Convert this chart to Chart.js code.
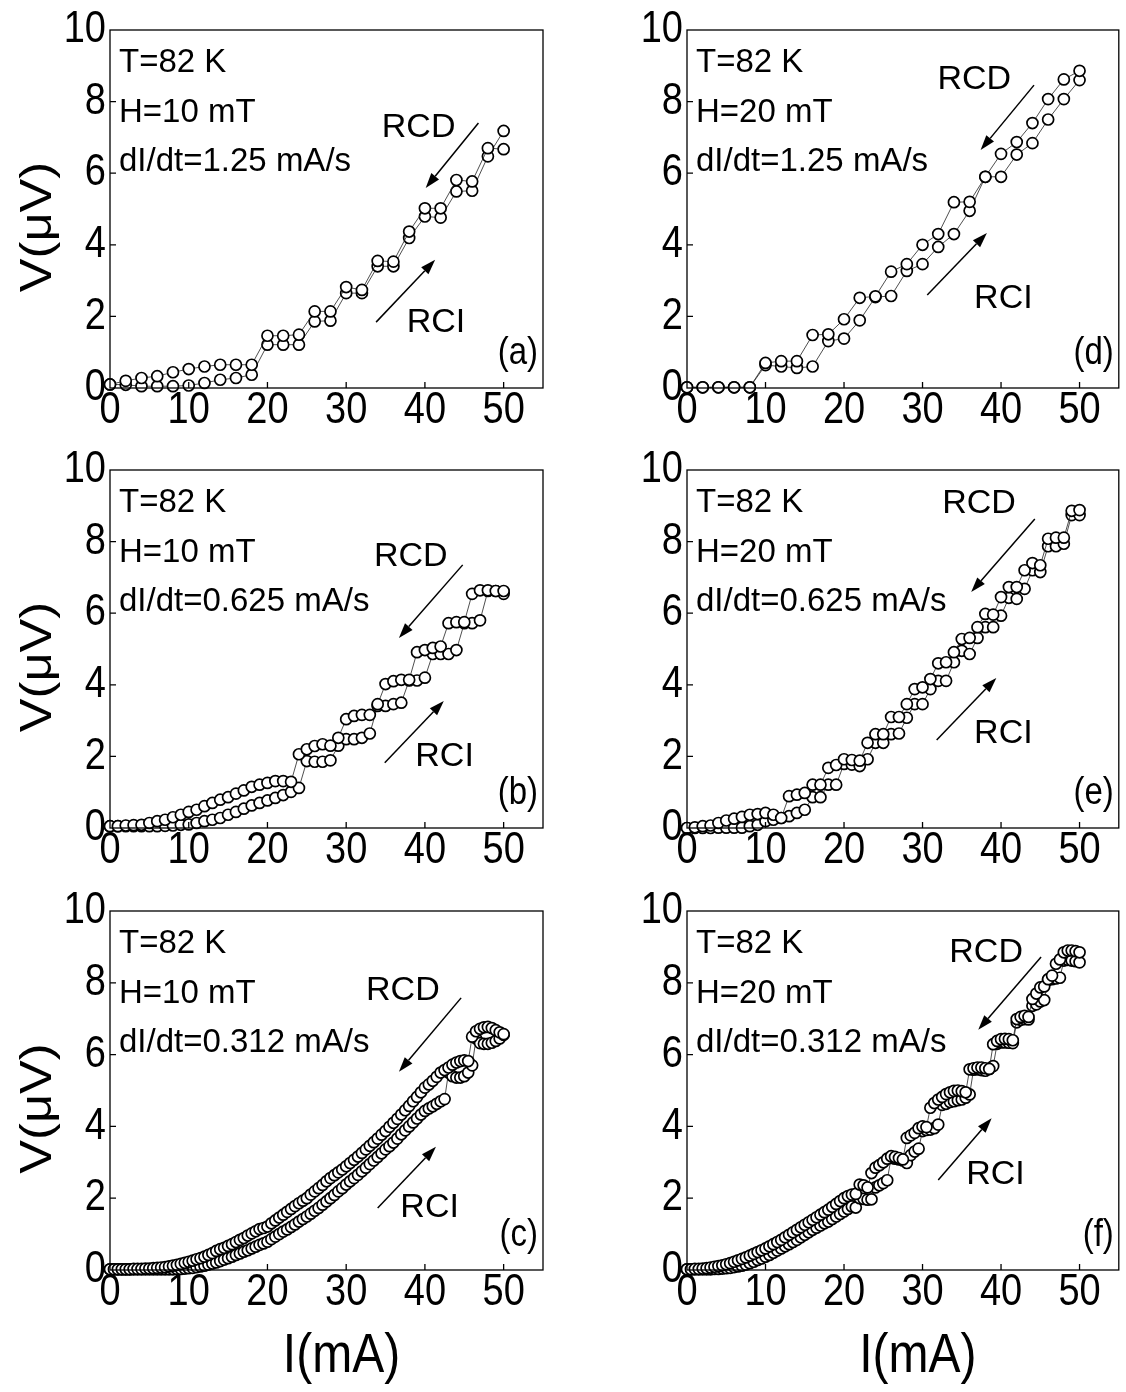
<!DOCTYPE html>
<html>
<head>
<meta charset="utf-8">
<script src="https://cdn.jsdelivr.net/npm/chart.js@4.4.1/dist/chart.umd.min.js"></script>
<style>
  body { margin: 0; background: #fff; }
  #wrap { position: relative; width: 1126px; height: 1392px; background: #fff; }
  canvas { position: absolute; }
</style>
</head>
<body>
<div id="wrap">
  <canvas id="pa"></canvas>
  <canvas id="pb"></canvas>
  <canvas id="pc"></canvas>
  <canvas id="pd"></canvas>
  <canvas id="pe"></canvas>
  <canvas id="pf"></canvas>
</div>
<script>
// currents (mA) for each sweep rate
const currFast = [0,2,4,6,8,10,12,14,16,18,20,22,24,26,28,30,32,34,36,38,40,42,44,46,48,50];
const currMid = [0,1,2,3,4,5,6,7,8,9,10,11,12,13,14,15,16,17,18,19,20,21,22,23,24,25,26,27,28,29,30,31,32,33,34,35,36,37,38,39,40,41,42,43,44,45,46,47,48,49,50];
const currSlow = [0,0.5,1,1.5,2,2.5,3,3.5,4,4.5,5,5.5,6,6.5,7,7.5,8,8.5,9,9.5,10,10.5,11,11.5,12,12.5,13,13.5,14,14.5,15,15.5,16,16.5,17,17.5,18,18.5,19,19.5,20,20.5,21,21.5,22,22.5,23,23.5,24,24.5,25,25.5,26,26.5,27,27.5,28,28.5,29,29.5,30,30.5,31,31.5,32,32.5,33,33.5,34,34.5,35,35.5,36,36.5,37,37.5,38,38.5,39,39.5,40,40.5,41,41.5,42,42.5,43,43.5,44,44.5,45,45.5,46,46.5,47,47.5,48,48.5,49,49.5,50];

// V (uV), H = 10 mT
const rciA = [0.1,0.09,0.05,0.05,0.05,0.07,0.14,0.23,0.28,0.37,1.21,1.21,1.21,1.86,1.88,2.65,2.65,3.4,3.4,4.19,4.79,4.76,5.49,5.51,6.47,7.18];
const rcdA = [0.1,0.2,0.28,0.33,0.44,0.53,0.6,0.65,0.65,0.65,1.46,1.46,1.49,2.14,2.14,2.82,2.74,3.55,3.53,4.37,5.02,5.02,5.81,5.77,6.7,6.67];
const rciB = [0.05,0.05,0.05,0.05,0.05,0.05,0.05,0.06,0.07,0.09,0.1,0.14,0.19,0.23,0.28,0.37,0.45,0.54,0.63,0.7,0.77,0.84,0.92,1.01,1.12,1.87,1.85,1.85,1.89,2.3,2.48,2.48,2.52,2.64,3.41,3.41,3.46,3.5,4.12,4.12,4.2,4.86,4.86,4.86,4.97,5.72,5.72,5.8,6.62,6.62,6.54];
const rcdB = [0.05,0.05,0.07,0.08,0.09,0.14,0.19,0.23,0.3,0.37,0.45,0.51,0.61,0.7,0.79,0.86,0.96,1.05,1.15,1.21,1.26,1.31,1.31,1.29,2.06,2.2,2.29,2.34,2.3,2.52,3.04,3.13,3.16,3.16,3.46,4.02,4.1,4.14,4.14,4.91,4.97,5.03,5.07,5.72,5.75,5.75,6.54,6.64,6.64,6.62,6.62];
const rciC = [0.02,0.02,0.02,0.02,0.02,0.02,0.02,0.02,0.02,0.02,
  0.02,0.02,0.02,0.02,0.02,0.02,0.02,0.03,0.03,0.04,
  0.05,0.06,0.08,0.1,0.12,0.15,0.18,0.21,0.25,0.29,
  0.33,0.37,0.42,0.46,0.51,0.55,0.6,0.65,0.7,0.74,
  0.79,0.86,0.93,1.0,1.07,1.13,1.2,1.27,1.35,1.42,
  1.49,1.57,1.65,1.73,1.82,1.91,2.0,2.09,2.19,2.28,
  2.38,2.47,2.56,2.65,2.75,2.85,2.95,3.05,3.15,3.25,
  3.36,3.45,3.55,3.66,3.78,3.89,4.0,4.11,4.22,4.33,
  4.43,4.5,4.56,4.63,4.7,4.76,5.5,5.4,5.36,5.36,
  5.4,5.5,5.7,6.45,6.32,6.3,6.3,6.33,6.38,6.45,
  6.55];
const rcdC = [0.02,0.02,0.02,0.02,0.02,0.02,0.03,0.03,0.03,0.04,
  0.04,0.05,0.06,0.07,0.08,0.1,0.12,0.14,0.17,0.2,
  0.23,0.26,0.3,0.33,0.37,0.42,0.47,0.53,0.58,0.62,
  0.67,0.72,0.78,0.84,0.89,0.96,1.02,1.08,1.14,1.17,
  1.21,1.3,1.38,1.46,1.54,1.62,1.7,1.78,1.86,1.93,
  2.0,2.1,2.19,2.28,2.37,2.47,2.56,2.64,2.72,2.8,
  2.89,2.98,3.07,3.16,3.26,3.36,3.46,3.56,3.66,3.77,
  3.87,3.99,4.1,4.21,4.33,4.45,4.57,4.7,4.82,4.95,
  5.08,5.17,5.27,5.38,5.5,5.57,5.64,5.72,5.78,5.82,
  5.84,5.82,6.5,6.65,6.72,6.76,6.77,6.74,6.68,6.62,
  6.57];

// V (uV), H = 20 mT
const rciD = [0.02,0.02,0.02,0.02,0.02,0.64,0.6,0.56,0.6,1.31,1.38,1.89,2.54,2.57,3.27,3.46,3.94,4.3,4.95,5.9,5.9,6.52,6.84,7.5,8.07,8.6];
const rcdD = [0.02,0.02,0.02,0.02,0.02,0.7,0.75,0.75,1.48,1.5,1.92,2.52,2.56,3.25,3.46,4.0,4.3,5.19,5.2,5.9,6.54,6.87,7.4,8.07,8.62,8.86];
const rciE = [0,0,0,0,0.01,0.01,0.01,0.01,0.05,0.09,0.19,0.23,0.28,0.33,0.42,0.51,0.86,0.86,1.21,1.21,1.79,1.77,1.73,1.92,2.38,2.38,2.62,2.64,3.08,3.46,3.46,3.88,4.11,4.11,4.63,4.95,4.86,5.31,5.61,5.61,5.93,6.43,6.4,6.68,7.2,7.15,7.87,7.87,7.94,8.74,8.74];
const rcdE = [0,0.02,0.05,0.07,0.14,0.21,0.26,0.31,0.37,0.39,0.42,0.37,0.28,0.89,0.93,0.98,1.21,1.21,1.68,1.76,1.92,1.9,1.88,2.38,2.62,2.62,3.1,3.1,3.46,3.88,3.93,4.16,4.6,4.63,4.91,5.28,5.31,5.61,5.98,5.96,6.45,6.73,6.73,7.2,7.4,7.34,8.08,8.11,8.11,8.86,8.88];
const rciF = [0.02,0.02,0.02,0.02,0.02,0.02,0.02,0.03,0.03,0.04,
  0.05,0.06,0.08,0.1,0.12,0.15,0.19,0.23,0.28,0.32,
  0.37,0.42,0.48,0.54,0.6,0.66,0.72,0.78,0.84,0.91,
  0.98,1.05,1.12,1.18,1.24,1.3,1.35,1.42,1.49,1.56,
  1.63,1.7,1.77,1.74,2.0,1.98,1.96,1.97,2.3,2.36,
  2.42,2.5,3.12,3.1,3.08,3.05,2.98,3.2,3.3,3.38,
  3.87,3.9,3.91,3.95,4.05,4.6,4.63,4.68,4.7,4.73,
  4.75,4.8,4.89,5.58,5.59,5.57,5.55,5.6,5.68,6.3,
  6.34,6.34,6.33,6.32,6.9,6.97,6.99,6.98,7.36,7.4,
  7.48,7.52,8.08,8.1,8.12,8.14,8.62,8.64,8.62,8.6,
  8.57];
const rcdF = [0.02,0.02,0.03,0.03,0.04,0.05,0.07,0.09,0.11,0.13,
  0.16,0.19,0.23,0.27,0.31,0.35,0.4,0.45,0.5,0.55,
  0.6,0.66,0.72,0.78,0.84,0.91,0.98,1.05,1.12,1.19,
  1.26,1.33,1.4,1.47,1.54,1.61,1.68,1.76,1.84,1.92,
  2.0,2.06,2.1,2.12,2.38,2.36,2.3,2.7,2.85,2.92,
  3.0,3.1,3.17,3.15,3.12,3.08,3.68,3.75,3.82,3.95,
  4.0,3.98,4.52,4.65,4.75,4.82,4.9,4.95,4.99,5.0,
  4.98,4.95,5.59,5.62,5.64,5.64,5.62,5.6,6.29,6.38,
  6.43,6.44,6.43,6.4,6.99,7.05,7.08,7.05,7.55,7.7,
  7.87,7.9,8.1,8.2,8.53,8.65,8.85,8.9,8.9,8.88,
  8.85];

const xTicks = [0,10,20,30,40,50];
const yTicks = [0,2,4,6,8,10];
const fieldLabels = ['H=10 mT','H=10 mT','H=10 mT','H=20 mT','H=20 mT','H=20 mT'];
const rateLabels = ['dI/dt=1.25 mA/s','dI/dt=0.625 mA/s','dI/dt=0.312 mA/s','dI/dt=1.25 mA/s','dI/dt=0.625 mA/s','dI/dt=0.312 mA/s'];
const panelTags = ['(a)','(b)','(c)','(d)','(e)','(f)'];

const FONT = '"Liberation Sans", Arial, sans-serif';
const TALL = 1.17; // fonts in this figure are drawn a bit taller than wide

// where the RCD / RCI labels and arrows sit, in axis units
const notes = [
  { rcd: [39.2,7.26], rcdArrow: [[46.8,7.4],[40.1,5.59]], rci: [41.4,1.84], rciArrow: [[33.8,1.84],[41.3,3.58]] },
  { rcd: [38.2,7.57], rcdArrow: [[44.8,7.35],[36.7,5.31]], rci: [42.5,1.98], rciArrow: [[34.9,1.82],[42.4,3.55]] },
  { rcd: [37.2,7.77], rcdArrow: [[44.6,7.58],[36.7,5.52]], rci: [40.6,1.73], rciArrow: [[34.0,1.73],[41.4,3.43]] },
  { rcd: [36.6,8.6], rcdArrow: [[44.2,8.46],[37.4,6.65]], rci: [40.3,2.49], rciArrow: [[30.6,2.6],[38.2,4.33]] },
  { rcd: [37.2,9.05], rcdArrow: [[44.3,8.63],[36.2,6.59]], rci: [40.3,2.65], rciArrow: [[31.8,2.46],[39.4,4.19]] },
  { rcd: [38.1,8.83], rcdArrow: [[45.1,8.72],[37.1,6.69]], rci: [39.3,2.65], rciArrow: [[32.0,2.51],[38.8,4.23]] }
];

// canvas boxes and plot areas (inside each canvas)
const boxes = [
  { id: 'pa', left: 0,   top: 0,   w: 563, h: 440, area: [110, 30, 543, 388] },
  { id: 'pb', left: 0,   top: 440, w: 563, h: 440, area: [110, 30, 543, 388] },
  { id: 'pc', left: 0,   top: 880, w: 563, h: 512, area: [110, 31, 543, 390] },
  { id: 'pd', left: 563, top: 0,   w: 563, h: 440, area: [124, 30, 557, 388] },
  { id: 'pe', left: 563, top: 440, w: 563, h: 440, area: [124, 30, 557, 388] },
  { id: 'pf', left: 563, top: 880, w: 563, h: 512, area: [124, 31, 557, 390] }
];

function toPoints(xs, ys){
  return xs.map((v, i) => ({ x: v, y: ys[i] }));
}

// text stretched vertically around its anchor
function tallText(ctx, str, x, y, align, base){
  ctx.save();
  ctx.translate(x, y);
  ctx.scale(1, TALL);
  ctx.textAlign = align;
  ctx.textBaseline = base;
  ctx.fillText(str, 0, 0);
  ctx.restore();
}

function arrow(ctx, x0, y0, x1, y1){
  const ang = Math.atan2(y1 - y0, x1 - x0);
  const len = 15, half = 5;
  const bx = x1 - len * Math.cos(ang), by = y1 - len * Math.sin(ang);
  ctx.beginPath();
  ctx.moveTo(x0, y0);
  ctx.lineTo(bx, by);
  ctx.stroke();
  ctx.beginPath();
  ctx.moveTo(x1, y1);
  ctx.lineTo(bx + half * Math.sin(ang), by - half * Math.cos(ang));
  ctx.lineTo(bx - half * Math.sin(ang), by + half * Math.cos(ang));
  ctx.closePath();
  ctx.fill();
}

// frame, inner ticks, tick labels, texts, arrows and axis titles
const decor = {
  id: 'decor',
  afterDatasetsDraw(chart, args, o){
    const ctx = chart.ctx;
    const a = chart.chartArea;
    const sx = chart.scales.x, sy = chart.scales.y;
    ctx.save();
    ctx.strokeStyle = '#000';
    ctx.fillStyle = '#000';
    ctx.lineWidth = 1.3;
    ctx.strokeRect(a.left, a.top, a.right - a.left, a.bottom - a.top);

    ctx.beginPath();
    sx.ticks.forEach(t => {
      if (t.value <= 0) return;
      const px = sx.getPixelForValue(t.value);
      ctx.moveTo(px, a.bottom);
      ctx.lineTo(px, a.bottom - 6);
    });
    sy.ticks.forEach(t => {
      if (t.value <= 0 || t.value >= 10) return;
      const py = sy.getPixelForValue(t.value);
      ctx.moveTo(a.left, py);
      ctx.lineTo(a.left + 6, py);
    });
    ctx.stroke();

    // tick labels
    ctx.font = '38px ' + FONT;
    sx.ticks.forEach(t => {
      tallText(ctx, String(t.value), sx.getPixelForValue(t.value), a.bottom + 23, 'center', 'middle');
    });
    sy.ticks.forEach(t => {
      tallText(ctx, String(t.value), a.left - 4, sy.getPixelForValue(t.value), 'right', 'middle');
    });

    ctx.font = '33px ' + FONT;
    ctx.textAlign = 'left';
    ctx.textBaseline = 'alphabetic';
    ctx.fillText('T=82 K', a.left + 9, a.top + 42);
    ctx.fillText(o.field, a.left + 9, a.top + 92);
    ctx.fillText(o.rate, a.left + 9, a.top + 141);

    const n = o.note;
    ctx.font = '34px ' + FONT;
    ctx.textAlign = 'center';
    ctx.textBaseline = 'middle';
    ctx.fillText('RCD', sx.getPixelForValue(n.rcd[0]), sy.getPixelForValue(n.rcd[1]));
    ctx.fillText('RCI', sx.getPixelForValue(n.rci[0]), sy.getPixelForValue(n.rci[1]));
    ctx.lineWidth = 1.5;
    [n.rcdArrow, n.rciArrow].forEach(ar => {
      arrow(ctx,
        sx.getPixelForValue(ar[0][0]), sy.getPixelForValue(ar[0][1]),
        sx.getPixelForValue(ar[1][0]), sy.getPixelForValue(ar[1][1]));
    });

    ctx.font = '33px ' + FONT;
    tallText(ctx, o.tag, a.right - 5, a.bottom - 35, 'right', 'middle');

    if (o.yTitle){
      ctx.save();
      ctx.translate(39, (a.top + a.bottom) / 2 + 18);
      ctx.rotate(-Math.PI / 2);
      ctx.scale(1.15, 1);
      ctx.font = '44px ' + FONT;
      ctx.textAlign = 'center';
      ctx.textBaseline = 'middle';
      ctx.fillText('V(\u03bcV)', 0, 0);
      ctx.restore();
    }
    if (o.xTitle){
      ctx.font = '48px ' + FONT;
      tallText(ctx, 'I(mA)', (a.left + a.right) / 2 + 15, a.bottom + 87, 'center', 'middle');
    }
    ctx.restore();
  }
};

function series(label, pts){
  return {
    label: label,
    data: pts,
    showLine: true,
    borderColor: '#222',
    borderWidth: 0.8,
    pointStyle: 'circle',
    pointRadius: 5.5,
    pointBorderWidth: 1.7,
    pointBorderColor: '#000',
    pointBackgroundColor: '#fff',
    clip: false
  };
}

function makePanel(i, xs, rci, rcd){
  const b = boxes[i];
  const cv = document.getElementById(b.id);
  cv.width = b.w;
  cv.height = b.h;
  cv.style.left = b.left + 'px';
  cv.style.top = b.top + 'px';
  const [al, at, ar, ab] = b.area;

  return new Chart(cv.getContext('2d'), {
    type: 'scatter',
    data: {
      datasets: [series('RCD', toPoints(xs, rcd)), series('RCI', toPoints(xs, rci))]
    },
    options: {
      responsive: false,
      animation: false,
      layout: { padding: { left: 0, top: at, right: b.w - ar, bottom: 0 } },
      plugins: {
        legend: { display: false },
        tooltip: { enabled: false },
        decor: {
          field: fieldLabels[i],
          rate: rateLabels[i],
          tag: panelTags[i],
          note: notes[i],
          yTitle: i < 3,
          xTitle: i === 2 || i === 5
        }
      },
      scales: {
        x: {
          type: 'linear',
          min: 0,
          max: 55,
          grid: { display: false, drawTicks: false },
          border: { display: false },
          afterFit: s => { s.height = b.h - ab; },
          afterBuildTicks: s => { s.ticks = xTicks.map(v => ({ value: v })); },
          ticks: { display: false }
        },
        y: {
          min: 0,
          max: 10,
          grid: { display: false, drawTicks: false },
          border: { display: false },
          afterFit: s => { s.width = al; },
          afterBuildTicks: s => { s.ticks = yTicks.map(v => ({ value: v })); },
          ticks: { display: false }
        }
      }
    },
    plugins: [decor]
  });
}

makePanel(0, currFast, rciA, rcdA);
makePanel(1, currMid, rciB, rcdB);
makePanel(2, currSlow, rciC, rcdC);
makePanel(3, currFast, rciD, rcdD);
makePanel(4, currMid, rciE, rcdE);
makePanel(5, currSlow, rciF, rcdF);
</script>
</body>
</html>
